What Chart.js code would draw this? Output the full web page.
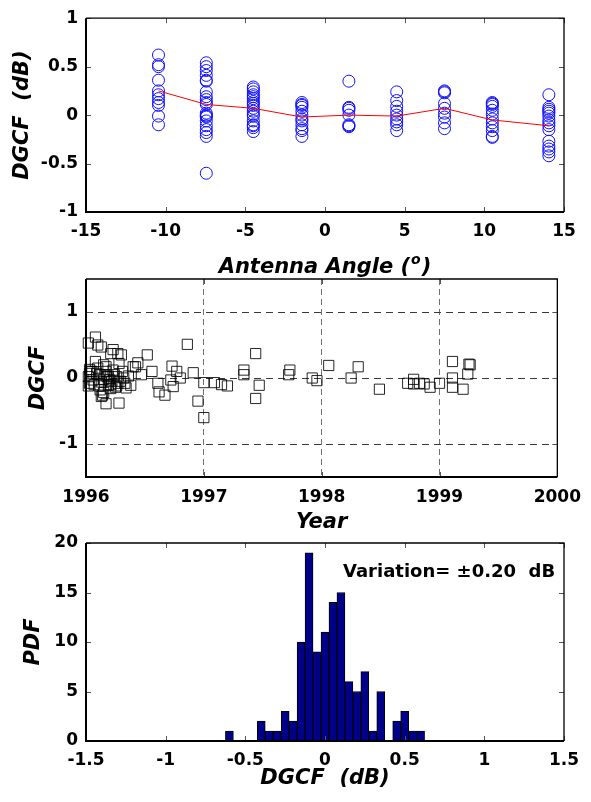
<!doctype html>
<html lang="en">
<head>
  <meta charset="utf-8">
  <title>DGCF vs antenna angle, time and PDF</title>
  <style>
    * { margin: 0; padding: 0; }
    body { width: 591px; height: 802px; background: white; position: relative; overflow: hidden; }
    canvas { position: absolute; left: 0; top: 0; }
  </style>
</head>
<body>
  <canvas id="angleChart" width="591" height="802"></canvas>
  <canvas id="yearChart" width="591" height="802"></canvas>
  <canvas id="pdfChart" width="591" height="802"></canvas>

  <script src="https://cdn.jsdelivr.net/npm/chart.js"></script>
  <script>
    // ---- panel 1: DGCF per antenna angle ----
    const angleDeg = [-10.45, -7.45, -4.5, -1.45, 1.5, 4.5, 7.5, 10.5, 14.05];
    const dgcfAtAngle = [
      [0.62, 0.52, 0.50, 0.36, 0.25, 0.21, 0.17, 0.13, 0.10, -0.01, -0.10],
      [0.54, 0.50, 0.46, 0.41, 0.36, 0.35, 0.24, 0.19, 0.16, 0.13, 0.11, 0.02, 0.00, -0.01, -0.02, -0.06, -0.11, -0.15, -0.18, -0.22, -0.60],
      [0.29, 0.27, 0.24, 0.21, 0.19, 0.17, 0.14, 0.12, 0.10, 0.07, 0.04, 0.01, -0.01, -0.06, -0.10, -0.11, -0.13, -0.17],
      [0.13, 0.11, 0.10, 0.08, 0.04, 0.00, -0.04, -0.06, -0.10, -0.14, -0.16, -0.22],
      [0.35, 0.08, 0.07, 0.05, 0.00, -0.10, -0.11, -0.12],
      [0.24, 0.15, 0.09, 0.04, 0.00, -0.04, -0.07, -0.10, -0.16],
      [0.25, 0.24, 0.23, 0.12, 0.07, 0.02, -0.02, -0.08, -0.14],
      [0.13, 0.12, 0.11, 0.09, 0.05, 0.01, -0.04, -0.08, -0.12, -0.16, -0.22, -0.23],
      [0.21, 0.08, 0.06, 0.04, 0.02, -0.01, -0.05, -0.08, -0.11, -0.15, -0.27, -0.32, -0.35, -0.38, -0.42]
    ];
    const meanAtAngle = [0.25, 0.11, 0.07, -0.02, 0.00, -0.01, 0.07, -0.05, -0.11];
    const angleTicks = [-15, -10, -5, 0, 5, 10, 15];
    const angleDgcfTicks = [-1, -0.5, 0, 0.5, 1];

    // ---- panel 2: DGCF over time ----
    const obsYear = [
      1996.02, 1996.08, 1996.10, 1996.13, 1996.23, 1996.27, 1996.30, 1996.21, 1996.52, 1996.86,
      1996.44, 1996.42, 1996.73, 1996.77, 1996.56, 1996.91, 1997.00, 1997.09, 1997.15, 1997.20,
      1997.34, 1997.34, 1997.44, 1997.47, 1997.44, 1996.95, 1997.00, 1997.73, 1997.72, 1996.61,
      1996.62, 1996.67, 1996.74, 1996.72, 1996.80, 1996.17, 1996.28, 1996.03, 1996.03, 1996.03,
      1996.12, 1996.14, 1996.20, 1996.26, 1996.31, 1996.33, 1996.38, 1996.40, 1996.28, 1996.17,
      1996.08, 1996.09, 1996.16, 1996.19, 1996.23, 1996.21, 1996.27, 1996.13, 1996.06, 1996.36,
      1996.47, 1996.05, 1996.11, 1996.18, 1996.25, 1996.15, 1996.22,
      1996.02, 1996.02, 1996.04, 1996.07, 1996.10, 1996.12, 1996.15, 1996.17, 1996.19, 1996.21,
      1996.24, 1996.26, 1996.29, 1996.32, 1996.34, 1996.13, 1996.15,
      1997.92, 1997.96, 1998.06, 1998.25, 1998.31, 1998.49, 1998.73, 1998.78, 1998.78,
      1998.83, 1998.87, 1998.92, 1999.00, 1999.11, 1999.11, 1999.11, 1999.20, 1999.25, 1999.26, 1999.24
    ];
    const obsDgcf = [
      0.53, 0.62, 0.50, 0.47, 0.43, 0.37, 0.35, 0.37, 0.35, 0.51,
      0.23, 0.17, 0.18, 0.10, 0.10, 0.08, -0.07, -0.07, -0.10, -0.12,
      0.12, 0.05, 0.37, -0.11, -0.31, -0.35, -0.60, 0.12, 0.05, -0.08,
      -0.21, -0.26, -0.13, -0.03, 0.00, -0.39, -0.38, -0.08, 0.07, 0.13,
      -0.18, -0.26, -0.03, 0.02, 0.10, -0.08, -0.11, 0.17, 0.22, 0.17,
      0.25, 0.07, 0.05, -0.11, 0.12, -0.16, -0.08, -0.06, -0.03, 0.03,
      0.05, 0.10, -0.12, 0.02, -0.14, 0.20, -0.05,
      0.02, -0.12, 0.10, -0.10, 0.15, 0.05, -0.02, 0.10, 0.03, -0.10,
      0.05, -0.12, -0.05, 0.00, -0.15, -0.28, -0.22,
      0.00, -0.04, 0.19, 0.00, 0.17, -0.17, -0.08, -0.02, -0.09,
      -0.08, -0.09, -0.14, -0.08, 0.25, 0.00, -0.14, -0.17, 0.21, 0.20, 0.06
    ];
    const yearTicks = [1996, 1997, 1998, 1999, 2000];
    const yearDgcfTicks = [-1, 0, 1];

    // ---- panel 3: histogram of DGCF ----
    const binCenter = [-0.6, -0.55, -0.5, -0.45, -0.4, -0.35, -0.3, -0.25, -0.2, -0.15, -0.1, -0.05,
                       0, 0.05, 0.1, 0.15, 0.2, 0.25, 0.3, 0.35, 0.4, 0.45, 0.5, 0.55, 0.6];
    const binCount = [1, 0, 0, 0, 2, 1, 1, 3, 2, 10, 19, 9,
                      11, 14, 15, 6, 5, 7, 1, 5, 0, 2, 3, 1, 1];
    const binTicks = [-1.5, -1, -0.5, 0, 0.5, 1, 1.5];
    const pdfTicks = [0, 5, 10, 15, 20];
    const variationText = 'Variation= \u00b10.20  dB';

    // ---- shared look ----
    const tickFont = { family: 'DejaVu Sans', size: 17, weight: 'bold' };
    const titleFont = { family: 'DejaVu Sans', size: 21, weight: 'bold', style: 'italic' };

    // MATLAB style box with inward tick marks
    const boxPlugin = {
      id: 'box',
      afterDraw(chart) {
        const { ctx, chartArea: a, scales: { x, y } } = chart;
        ctx.save();
        ctx.strokeStyle = '#555';
        ctx.lineWidth = 1;
        ctx.beginPath();
        x.ticks.forEach(t => {
          const px = Math.round(x.getPixelForValue(t.value)) + 0.5;
          ctx.moveTo(px, a.bottom); ctx.lineTo(px, a.bottom - 5);
          ctx.moveTo(px, a.top); ctx.lineTo(px, a.top + 5);
        });
        y.ticks.forEach(t => {
          const py = Math.round(y.getPixelForValue(t.value)) + 0.5;
          ctx.moveTo(a.left, py); ctx.lineTo(a.left + 5, py);
          ctx.moveTo(a.right, py); ctx.lineTo(a.right - 5, py);
        });
        ctx.stroke();
        ctx.strokeStyle = '#000';
        ctx.lineWidth = 1.3;
        ctx.beginPath();
        ctx.moveTo(a.left, a.top); ctx.lineTo(a.right, a.top); ctx.lineTo(a.right, a.bottom);
        ctx.stroke();
        ctx.lineWidth = 2;
        ctx.beginPath();
        ctx.moveTo(a.left, a.top); ctx.lineTo(a.left, a.bottom); ctx.lineTo(a.right, a.bottom);
        ctx.stroke();
        ctx.restore();
      }
    };

    function setTicks(values) {
      return scale => { scale.ticks = values.map(v => ({ value: v })); };
    }

    function makeScales(o) {
      return {
        x: {
          type: 'linear', min: o.xMin, max: o.xMax, offset: false,
          afterBuildTicks: setTicks(o.xTicks),
          afterFit: s => { s.height = o.xHeight; },
          ticks: { font: tickFont, color: '#000', padding: o.xTickPad, maxRotation: 0, autoSkip: false,
                   callback: v => String(v) },
          grid: Object.assign({ display: false, drawTicks: false, offset: false }, o.xGrid || {}),
          border: Object.assign({ display: false }, o.xBorder || {}),
          title: { display: !!o.xTitle, text: o.xTitle, font: titleFont, color: '#000',
                   padding: { top: 0, bottom: o.xTitlePad } }
        },
        y: {
          type: 'linear', min: o.yMin, max: o.yMax,
          afterBuildTicks: setTicks(o.yTicks),
          afterFit: s => { s.width = 86; },
          ticks: { font: tickFont, color: '#000', padding: 8, autoSkip: false,
                   callback: v => String(v) },
          grid: Object.assign({ display: false, drawTicks: false }, o.yGrid || {}),
          border: Object.assign({ display: false }, o.yBorder || {}),
          title: { display: true, text: o.yTitle, font: titleFont, color: '#000',
                   padding: { top: o.yTitlePad, bottom: 0 } }
        }
      };
    }

    const baseOptions = {
      responsive: false,
      animation: false,
      events: [],
      plugins: { legend: { display: false }, tooltip: { enabled: false } }
    };

    // ---- panel 1 ----
    const anglePoints = dgcfAtAngle.flatMap((col, i) => col.map(v => ({ x: angleDeg[i], y: v })));
    const meanPoints = angleDeg.map((a, i) => ({ x: a, y: meanAtAngle[i] }));

    // x title with a superscript o
    const angleTitlePlugin = {
      id: 'angleTitle',
      afterDraw(chart) {
        const ctx = chart.ctx;
        const a = chart.chartArea;
        const cx = (a.left + a.right) / 2, cy = 267.5;
        const big = 'italic bold 21px "DejaVu Sans"', small = 'italic bold 14px "DejaVu Sans"';
        ctx.save();
        ctx.fillStyle = '#000';
        ctx.textBaseline = 'middle';
        ctx.font = big;
        const w1 = ctx.measureText('Antenna Angle (').width;
        const w3 = ctx.measureText(')').width;
        ctx.font = small;
        const w2 = ctx.measureText('o').width + 2;
        let x0 = cx - (w1 + w2 + w3) / 2;
        ctx.font = big;
        ctx.fillText('Antenna Angle (', x0, cy);
        ctx.font = small;
        ctx.fillText('o', x0 + w1 + 1, cy - 7);
        ctx.font = big;
        ctx.fillText(')', x0 + w1 + w2, cy);
        ctx.restore();
      }
    };

    new Chart(document.getElementById('angleChart'), {
      type: 'scatter',
      data: {
        datasets: [
          {
            data: meanPoints, showLine: true, borderColor: '#ff0000', borderWidth: 1,
            pointRadius: 0, order: 1
          },
          {
            data: anglePoints, borderColor: '#1010ff', backgroundColor: 'rgba(0,0,0,0)',
            borderWidth: 1, pointRadius: 6, pointStyle: 'circle', order: 2
          }
        ]
      },
      options: Object.assign({}, baseOptions, {
        layout: { padding: { top: 15, right: 27, bottom: 520, left: 0 } },
        scales: makeScales({
          xMin: -15, xMax: 15, xTicks: angleTicks, xHeight: 70, xTickPad: 9,
          xTitle: '', xTitlePad: 2,
          yMin: -1, yMax: 1, yTicks: angleDgcfTicks, yTitle: 'DGCF  (dB)', yTitlePad: 10
        })
      }),
      plugins: [boxPlugin, angleTitlePlugin]
    });

    // ---- panel 2 ----
    const yearPoints = obsYear.map((yr, i) => ({ x: yr, y: obsDgcf[i] }));
    const edgeHidden = (edges, col) => ctx =>
      (ctx.tick && edges.includes(ctx.tick.value)) ? 'rgba(0,0,0,0)' : col;

    new Chart(document.getElementById('yearChart'), {
      type: 'scatter',
      data: {
        datasets: [{
          data: yearPoints, borderColor: 'rgba(0,0,0,0.85)', backgroundColor: 'rgba(0,0,0,0)',
          borderWidth: 1, pointRadius: 7.2, pointStyle: 'rect', clip: 6
        }]
      },
      options: Object.assign({}, baseOptions, {
        layout: { padding: { top: 279, right: 27, bottom: 265, left: 0 } },
        scales: makeScales({
          xMin: 1996, xMax: 2000, xTicks: yearTicks, xHeight: 60, xTickPad: 10,
          xTitle: 'Year', xTitlePad: 2,
          xGrid: { display: true, drawOnChartArea: true, lineWidth: 1, color: edgeHidden([1996, 2000], '#707070') },
          xBorder: { dash: [6, 4] },
          yMin: -1.5, yMax: 1.5, yTicks: yearDgcfTicks, yTitle: 'DGCF', yTitlePad: 26,
          yGrid: { display: true, drawOnChartArea: true, lineWidth: 1, color: '#3a3a3a' },
          yBorder: { dash: [7, 5] }
        })
      }),
      plugins: [boxPlugin]
    });

    // ---- panel 3 ----
    const varPlugin = {
      id: 'variation',
      afterDraw(chart) {
        const { ctx, scales: { x, y } } = chart;
        ctx.save();
        ctx.fillStyle = '#000';
        ctx.font = 'bold 18px "DejaVu Sans"';
        ctx.textBaseline = 'middle';
        ctx.fillText(variationText, x.getPixelForValue(0.113), y.getPixelForValue(17.0));
        ctx.restore();
      }
    };

    new Chart(document.getElementById('pdfChart'), {
      type: 'bar',
      data: {
        datasets: [{
          data: binCenter.map((c, i) => ({ x: c, y: binCount[i] })),
          backgroundColor: '#000088', borderColor: '#000000', borderWidth: 1,
          barPercentage: 1, categoryPercentage: 1, borderSkipped: 'bottom'
        }]
      },
      options: Object.assign({}, baseOptions, {
        layout: { padding: { top: 543, right: 27, bottom: 6, left: 0 } },
        scales: makeScales({
          xMin: -1.5, xMax: 1.5, xTicks: binTicks, xHeight: 55, xTickPad: 9,
          xTitle: 'DGCF  (dB)', xTitlePad: 5,
          yMin: 0, yMax: 20, yTicks: pdfTicks, yTitle: 'PDF', yTitlePad: 21
        })
      }),
      plugins: [boxPlugin, varPlugin]
    });
  </script>
</body>
</html>
